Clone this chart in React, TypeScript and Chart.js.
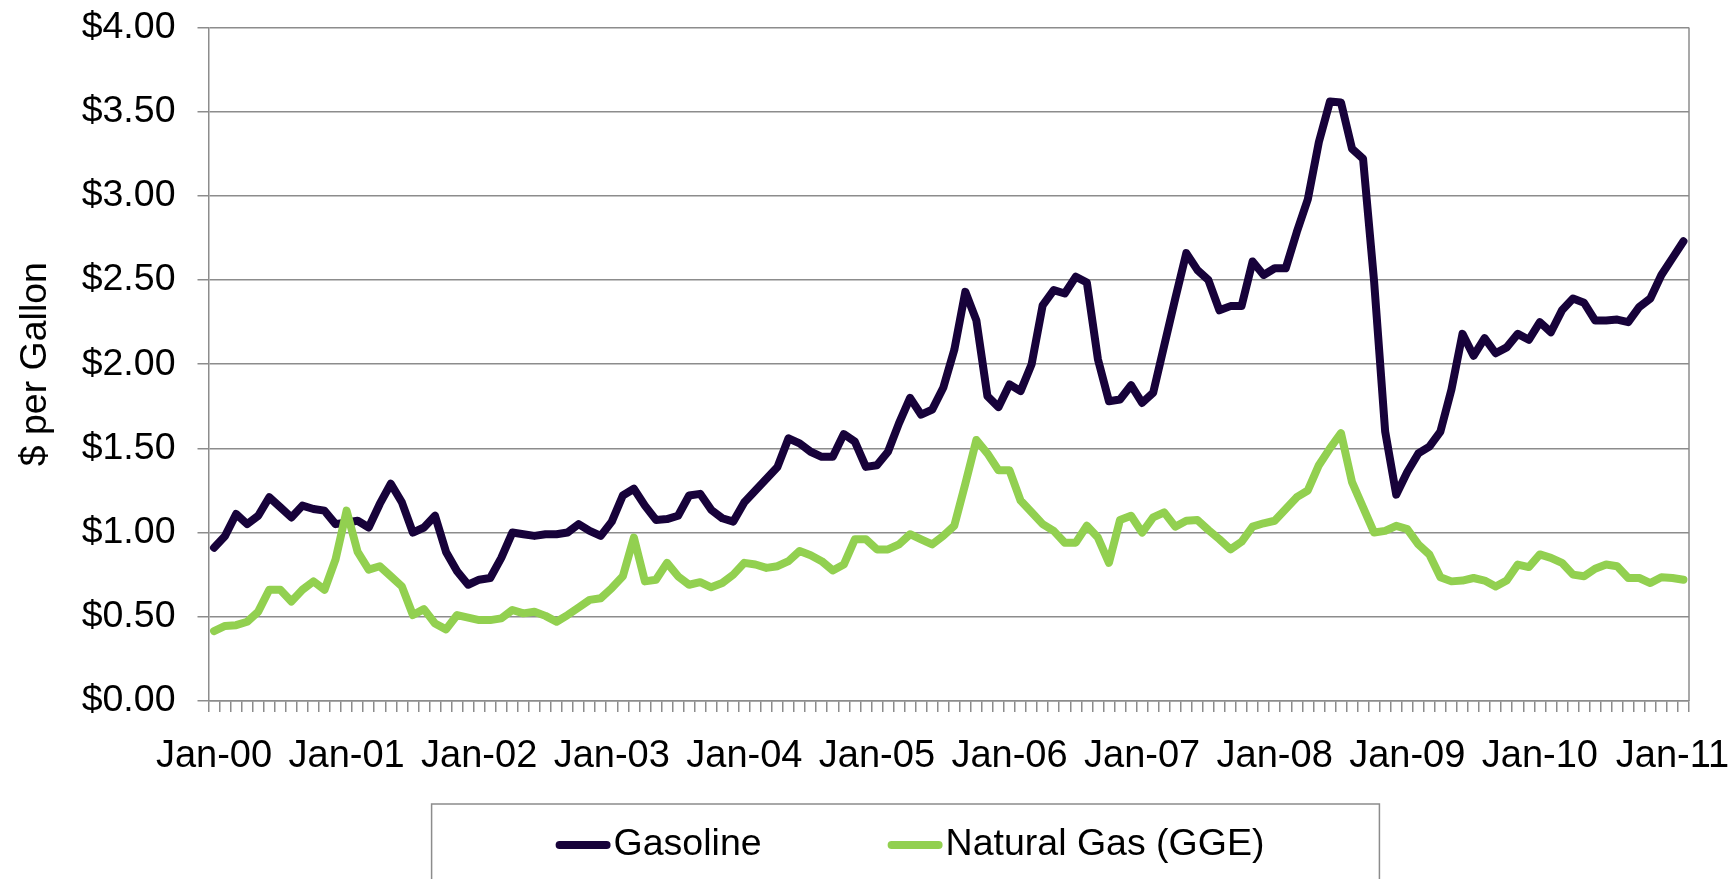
import { useEffect, useRef } from 'react';
import { Chart, registerables } from 'chart.js';

Chart.register(...registerables);

const FONT = '"Liberation Sans", Arial, Helvetica, sans-serif';
const FONT_SIZE = 37.5;
const GRID = '#8c8c8c';
const GAS_COLOR = '#17023a';
const NG_COLOR = '#92d050';

const MONTHS = ['Jan', 'Feb', 'Mar', 'Apr', 'May', 'Jun', 'Jul', 'Aug', 'Sep', 'Oct', 'Nov', 'Dec'];
const YEARS = ['00', '01', '02', '03', '04', '05', '06', '07', '08', '09', '10', '11'];

const gasoline = [
  0.91, 0.98, 1.11, 1.05, 1.10, 1.21, 1.15, 1.09, 1.16, 1.14, 1.13, 1.05,
  1.06, 1.07, 1.03, 1.17, 1.29, 1.18, 1.00, 1.03, 1.10, 0.885, 0.77, 0.69,
  0.72, 0.73, 0.85, 1.00, 0.99, 0.98, 0.99, 0.99, 1.00, 1.05, 1.01, 0.98,
  1.065, 1.22, 1.26, 1.16, 1.075, 1.08, 1.10, 1.22, 1.23, 1.135, 1.085, 1.065,
  1.18, 1.25, 1.32, 1.39, 1.56, 1.53, 1.48, 1.45, 1.45, 1.585, 1.54, 1.39,
  1.40, 1.48, 1.65, 1.80, 1.70, 1.73, 1.86, 2.085, 2.43, 2.26, 1.81, 1.745,
  1.88, 1.84, 2.00, 2.35, 2.44, 2.42, 2.52, 2.485, 2.03, 1.78, 1.79, 1.875,
  1.77, 1.83, 2.11, 2.39, 2.66, 2.56, 2.50, 2.32, 2.345, 2.345, 2.61, 2.53,
  2.57, 2.57, 2.785, 2.98, 3.32, 3.56, 3.555, 3.28, 3.22, 2.49, 1.60, 1.225,
  1.36, 1.47, 1.51, 1.60, 1.85, 2.18, 2.05, 2.155, 2.065, 2.10, 2.18, 2.145,
  2.25, 2.19, 2.32, 2.39, 2.365, 2.26, 2.26, 2.265, 2.25, 2.34, 2.39, 2.53,
  2.63, 2.73,
];

const naturalGas = [
  0.415, 0.445, 0.45, 0.47, 0.53, 0.66, 0.66, 0.59, 0.66, 0.71, 0.66, 0.84,
  1.13, 0.885, 0.78, 0.80, 0.74, 0.68, 0.51, 0.545, 0.46, 0.425, 0.51, 0.495,
  0.48, 0.48, 0.49, 0.54, 0.52, 0.53, 0.505, 0.47, 0.51, 0.555, 0.60, 0.61,
  0.67, 0.74, 0.97, 0.71, 0.72, 0.82, 0.74, 0.69, 0.705, 0.675, 0.70, 0.75,
  0.82, 0.81, 0.79, 0.80, 0.83, 0.89, 0.865, 0.83, 0.775, 0.81, 0.96, 0.96,
  0.90, 0.90, 0.93, 0.99, 0.96, 0.93, 0.98, 1.04, 1.29, 1.55, 1.47, 1.37,
  1.37, 1.19, 1.12, 1.05, 1.01, 0.94, 0.94, 1.04, 0.97, 0.82, 1.075, 1.10,
  1.00, 1.09, 1.12, 1.035, 1.07, 1.075, 1.015, 0.96, 0.90, 0.945, 1.035, 1.055,
  1.07, 1.14, 1.21, 1.25, 1.40, 1.50, 1.59, 1.30, 1.15, 1.00, 1.01, 1.04,
  1.02, 0.93, 0.87, 0.735, 0.71, 0.715, 0.73, 0.715, 0.68, 0.715, 0.81, 0.795,
  0.87, 0.85, 0.82, 0.75, 0.74, 0.785, 0.81, 0.80, 0.73, 0.73, 0.70, 0.735,
  0.73, 0.72,
];

const allMonths: string[] = [];
for (const y of YEARS) for (const m of MONTHS) allMonths.push(`${m}-${y}`);
const categories = allMonths.slice(0, gasoline.length);

const Y_MIN = 0;
const Y_MAX = 4;
const Y_STEP = 0.5;

const boxedLegend = {
  id: 'boxedLegend',
  beforeDatasetsDraw(chart: any) {
    const { ctx, chartArea } = chart;
    ctx.save();
    ctx.strokeStyle = GRID;
    ctx.lineWidth = 1.5;
    ctx.beginPath();
    ctx.moveTo(chartArea.right, chartArea.top);
    ctx.lineTo(chartArea.right, chartArea.bottom);
    ctx.stroke();
    ctx.restore();
  },
  afterDraw(chart: any) {
    const { ctx } = chart;
    const ds = chart.data.datasets;
    ctx.save();
    ctx.font = `${FONT_SIZE}px ${FONT}`;
    const cap = 4;
    const core = 47;
    const textGap = 3;
    const itemGap = 126;
    const widths = ds.map((d: any) => ctx.measureText(d.label).width);
    const total =
      widths.reduce((s: number, w: number) => s + w + core + 2 * cap + textGap, 0) +
      itemGap * (ds.length - 1);
    const centerX = chart.width * 0.5245;
    const y = 845;
    let x = centerX - total / 2;
    ctx.strokeStyle = GRID;
    ctx.lineWidth = 1.5;
    ctx.strokeRect(x - 124, 804, total + 124 + 115, chart.height);
    ds.forEach((d: any, i: number) => {
      ctx.strokeStyle = d.borderColor;
      ctx.lineWidth = d.borderWidth;
      ctx.lineCap = 'round';
      ctx.beginPath();
      ctx.moveTo(x + cap, y);
      ctx.lineTo(x + cap + core, y);
      ctx.stroke();
      ctx.fillStyle = '#000';
      ctx.textBaseline = 'middle';
      ctx.textAlign = 'left';
      ctx.fillText(d.label, x + 2 * cap + core + textGap, y);
      x += 2 * cap + core + textGap + widths[i] + itemGap;
    });
    ctx.restore();
  },
};

export default function App() {
  const ref = useRef<HTMLCanvasElement | null>(null);

  useEffect(() => {
    if (!ref.current) return;
    const chart = new Chart(ref.current, {
      type: 'line',
      data: {
        labels: categories,
        datasets: [
          {
            label: 'Gasoline',
            data: gasoline,
            borderColor: GAS_COLOR,
            backgroundColor: GAS_COLOR,
            borderWidth: 8,
            pointRadius: 0,
            tension: 0,
            borderJoinStyle: 'round',
            borderCapStyle: 'round',
            order: 1,
          },
          {
            label: 'Natural Gas (GGE)',
            data: naturalGas,
            borderColor: NG_COLOR,
            backgroundColor: NG_COLOR,
            borderWidth: 8,
            pointRadius: 0,
            tension: 0,
            borderJoinStyle: 'round',
            borderCapStyle: 'round',
            order: 0,
          },
        ],
      },
      options: {
        responsive: false,
        animation: false,
        events: [],
        layout: { padding: { left: 0, right: 46, top: 27.5, bottom: 77.5 } },
        plugins: {
          legend: { display: false },
          tooltip: { enabled: false },
        },
        scales: {
          x: {
            type: 'category',
            offset: true,
            grid: {
              display: true,
              drawOnChartArea: false,
              drawTicks: true,
              tickLength: 11,
              color: GRID,
              lineWidth: 1.5,
              offset: true,
            },
            border: { display: true, color: GRID, width: 1.5 },
            ticks: {
              autoSkip: false,
              maxRotation: 0,
              minRotation: 0,
              padding: 22,
              color: '#000',
              font: { family: FONT, size: 38 },
              callback: function (this: any, v: any) {
                const l = this.getLabelForValue(v) as string;
                return l.startsWith('Jan') ? l : '';
              },
            },
          },
          y: {
            min: Y_MIN,
            max: Y_MAX,
            ticks: {
              stepSize: Y_STEP,
              padding: 22,
              color: '#000',
              font: { family: FONT, size: FONT_SIZE },
              callback: (v: any) => '$' + Number(v).toFixed(2),
            },
            grid: { color: GRID, lineWidth: 1.5, tickLength: 11 },
            border: { display: true, color: GRID, width: 1.5 },
            title: {
              display: true,
              text: '$ per Gallon',
              color: '#000',
              font: { family: FONT, size: FONT_SIZE },
              padding: { top: 13, bottom: 28 },
            },
            afterFit: (scale: any) => {
              scale.width = 208.5;
              scale.paddingTop = 0;
            },
          },
        },
      },
      plugins: [boxedLegend],
    });
    return () => chart.destroy();
  }, []);

  return (
    <div style={{ position: 'absolute', left: 0, top: 0, width: 1735, height: 879, background: '#fff' }}>
      <canvas ref={ref} width={1735} height={879} style={{ display: 'block' }} />
    </div>
  );
}
